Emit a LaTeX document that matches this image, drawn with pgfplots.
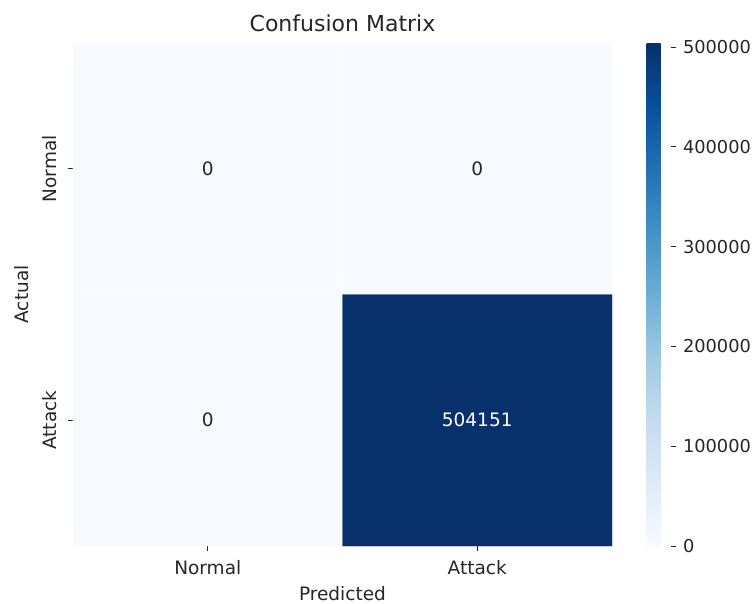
\documentclass[border=0pt]{standalone}
\usepackage{fontspec}
\setmainfont{DejaVu Sans}
\usepackage{pgfplots}
\pgfplotsset{compat=1.18}
\definecolor{txt}{RGB}{38,38,38}
\begin{document}
\begin{tikzpicture}
\path[use as bounding box] (-73bp,-58bp) rectangle (682bp,546bp);
\begin{axis}[
  at={(0,0)}, anchor=south west,
  scale only axis, width=539bp, height=503bp,
  xmin=-0.5, xmax=1.5, ymin=-0.5, ymax=1.5,
  y dir=reverse,
  axis line style={draw=none},
  xtick={0,1}, xticklabels={Normal,Attack},
  ytick={0,1}, yticklabels={Normal,Attack},
  xticklabel style={yshift=-6bp},
  yticklabel style={xshift=-8bp, rotate=90, anchor=south},
  tick align=outside, major tick length=5bp,
  tick style={txt, line width=0.9bp},
  xtick pos=bottom, ytick pos=left,
  ticklabel style={font=\fontsize{18.5bp}{20bp}\selectfont, text=txt},
  xlabel={Predicted}, ylabel={Actual},
  label style={font=\fontsize{18.5bp}{20bp}\selectfont, text=txt},
  xlabel style={yshift=-5bp},
  ylabel style={yshift=7bp},
  title={Confusion Matrix},
  title style={font=\fontsize{22bp}{24bp}\selectfont, text=txt, yshift=2bp},
  colormap={blues}{rgb255=(247,251,255) rgb255=(222,235,247) rgb255=(198,219,239) rgb255=(158,202,225) rgb255=(107,174,214) rgb255=(66,146,198) rgb255=(33,113,181) rgb255=(8,81,156) rgb255=(8,48,107)},
  point meta min=0, point meta max=504151,
  colorbar,
  colorbar style={
    width=24bp,
    at={(parent axis.north east)}, anchor=north west, xshift=26bp,
    ytick={0,100000,200000,300000,400000,500000},
    scaled y ticks=false,
    yticklabel style={xshift=4bp, /pgf/number format/fixed, /pgf/number format/1000 sep={}, /pgf/number format/assume math mode=true, font=\fontsize{17.8bp}{20bp}\selectfont, text=txt},
    axis line style={draw=none},
    tick align=outside, major tick length=5bp,
    tick style={txt, line width=0.9bp},
    ytick pos=right,
  },
]
\addplot[matrix plot*, mesh/cols=2, point meta=explicit] table[meta=c] {
x y c
0 0 0
1 0 0
0 1 0
1 1 504151
};
\addplot[draw=none, mark=none, nodes near coords, point meta=explicit symbolic,
  every node near coord/.append style={anchor=center, text=txt, font=\fontsize{18.5bp}{20bp}\selectfont}] table[meta=l] {
x y l
0 0 0
1 0 0
0 1 0
};
\addplot[draw=none, mark=none, nodes near coords, point meta=explicit symbolic,
  every node near coord/.append style={anchor=center, text=white, font=\fontsize{18.5bp}{20bp}\selectfont}] table[meta=l] {
x y l
1 1 504151
};
\end{axis}
\end{tikzpicture}
\end{document}
